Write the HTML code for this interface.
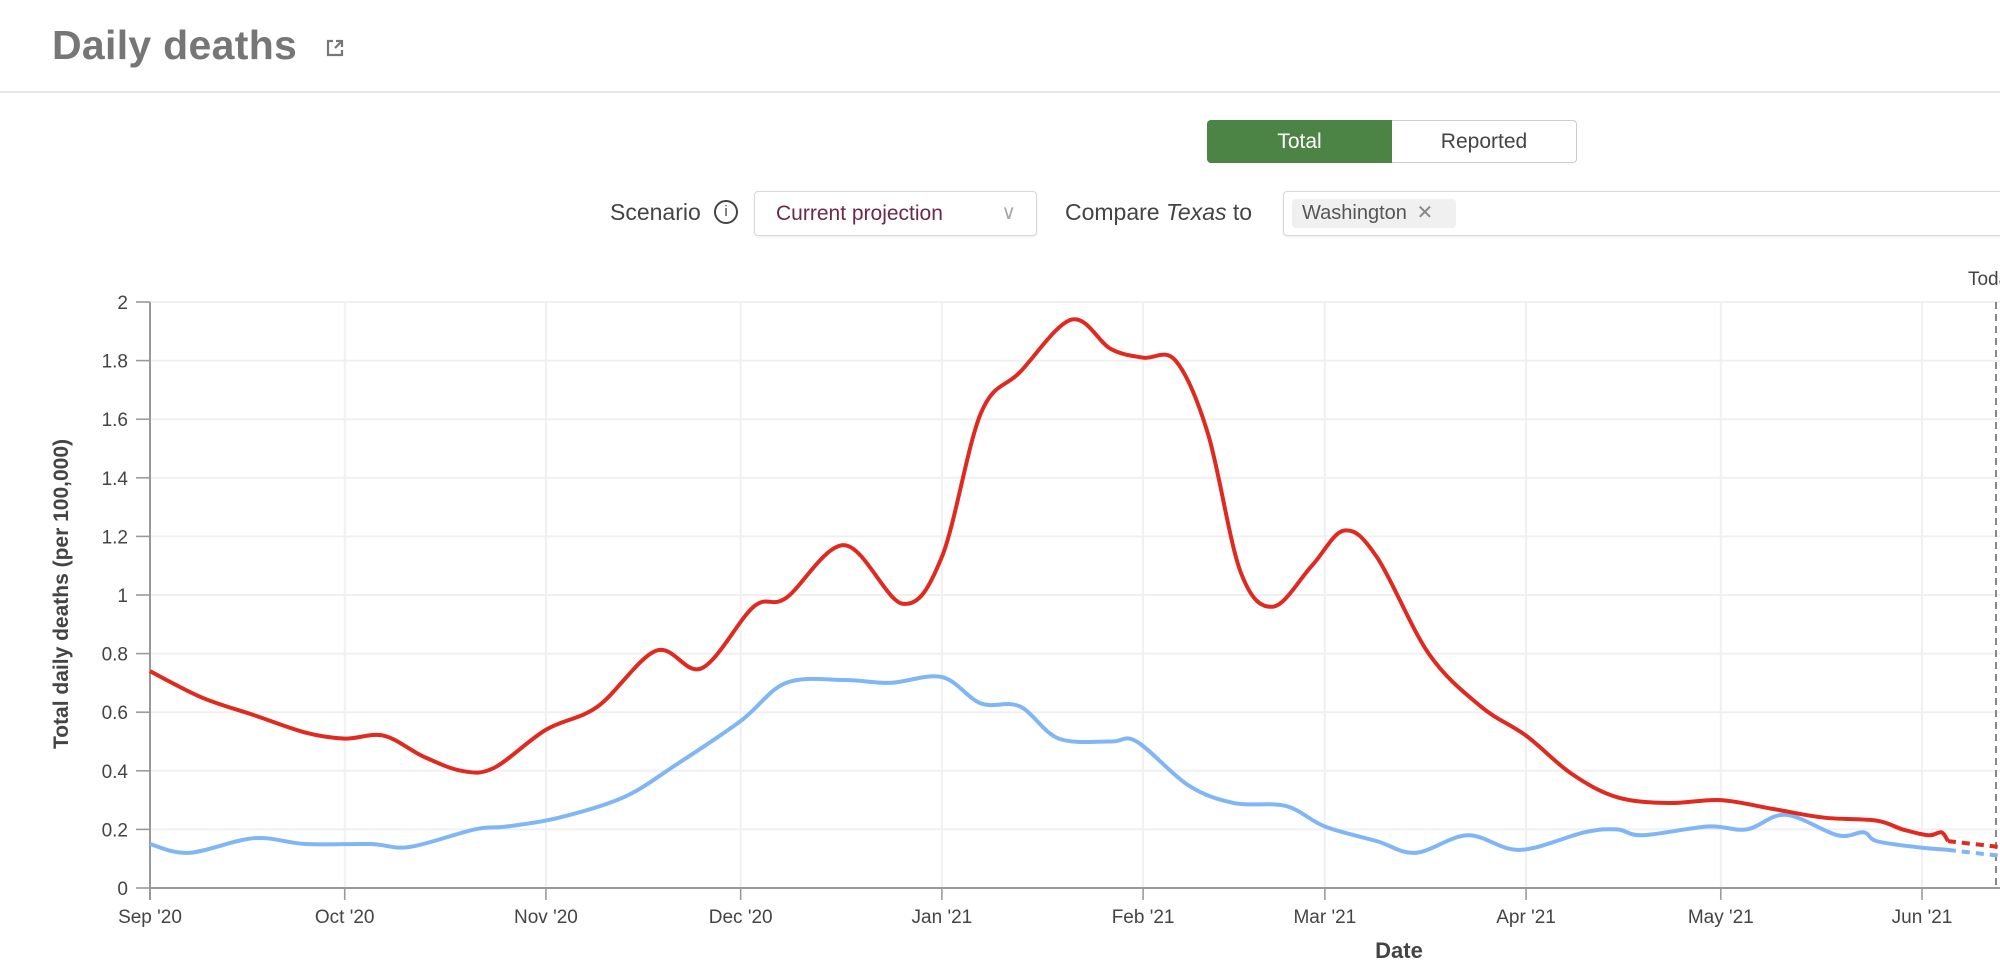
<!DOCTYPE html>
<html><head><meta charset="utf-8">
<style>
html,body{margin:0;padding:0;background:#fff;width:2000px;height:963px;overflow:hidden;font-family:"Liberation Sans",sans-serif;}
.abs{position:absolute;}
</style></head>
<body>
<div class="abs" style="left:52px;top:22px;font-size:41px;font-weight:900;color:#767676;letter-spacing:0.3px">Daily deaths</div>
<svg class="abs" style="left:325px;top:38px" width="20" height="20" viewBox="0 0 20 20"><path d="M8 3H3v14h14v-5" fill="none" stroke="#777" stroke-width="2.2"/><path d="M10 10L17 3M11 3h6v6" fill="none" stroke="#777" stroke-width="2.2"/></svg>
<div class="abs" style="left:0;top:91px;width:2000px;height:2px;background:#e6e6e6"></div>

<div class="abs" style="left:1207px;top:120px;width:185px;height:43px;background:#4b8444;border-radius:4px 0 0 4px;color:#fff;font-size:21px;line-height:43px;text-align:center">Total</div>
<div class="abs" style="left:1392px;top:120px;width:184px;height:41px;border:1px solid #ccc;border-left:none;border-radius:0 4px 4px 0;color:#444;font-size:21px;line-height:41px;text-align:center">Reported</div>

<div class="abs" style="left:610px;top:199px;font-size:23px;color:#444">Scenario</div>
<div class="abs" style="left:714px;top:200px;width:20px;height:20px;border:2px solid #444;border-radius:50%;font-size:15px;line-height:20px;text-align:center;color:#444">i</div>
<div class="abs" style="left:754px;top:191px;width:281px;height:43px;border:1px solid #d8d8d8;border-radius:4px;box-shadow:0 1px 2px rgba(0,0,0,.08)">
<span style="position:absolute;left:21px;top:10px;font-size:21px;color:#6b2a4a">Current projection</span>
<span style="position:absolute;right:20px;top:8px;font-size:20px;color:#aaa">&#8744;</span></div>
<div class="abs" style="left:1065px;top:199px;font-size:23px;color:#444">Compare <i>Texas</i> to</div>
<div class="abs" style="left:1283px;top:191px;width:730px;height:43px;border:1px solid #d8d8d8;border-radius:4px;box-shadow:0 1px 2px rgba(0,0,0,.08)">
<div style="position:absolute;left:8px;top:7px;width:164px;height:29px;background:#f0f0f0;border-radius:4px;font-size:20px;color:#555;line-height:29px;padding-left:10px;box-sizing:border-box">Washington <span style="color:#888;margin-left:4px">&#x2715;</span></div></div>

<svg id="chart" class="abs" style="left:0;top:0" width="2000" height="963"></svg>
<script>
const tickDays=[0,30,61,91,122,153,181,212,242,273];
const tickLabels=["Sep '20","Oct '20","Nov '20","Dec '20","Jan '21","Feb '21","Mar '21","Apr '21","May '21","Jun '21"];
const yTicks=[0,0.2,0.4,0.6,0.8,1,1.2,1.4,1.6,1.8,2];
const yTickLabels=["0","0.2","0.4","0.6","0.8","1","1.2","1.4","1.6","1.8","2"];
const texasDays=[0,8,16,24,30,36,42,48,53,61,69,78,85,93,98,107,116,122,128,134,142,148,153,158,163,168,173,179,184,189,197,205,212,219,226,234,242,250,258,266,270,274,276,277];
const texasVals=[0.74,0.65,0.59,0.53,0.51,0.52,0.45,0.40,0.41,0.54,0.62,0.81,0.75,0.96,0.99,1.17,0.97,1.13,1.62,1.76,1.94,1.84,1.81,1.80,1.55,1.08,0.96,1.10,1.22,1.13,0.80,0.62,0.52,0.39,0.31,0.29,0.30,0.27,0.24,0.23,0.20,0.18,0.19,0.16];
const texasProjDays=[277,285];
const texasProjVals=[0.16,0.14];
const waDays=[0,6,16,24,34,40,50,55,63,73,81,91,98,107,114,122,128,134,140,148,152,160,167,175,181,189,195,203,211,221,226,230,240,246,252,260,264,266,272,277];
const waVals=[0.15,0.12,0.17,0.15,0.15,0.14,0.20,0.21,0.24,0.31,0.42,0.57,0.70,0.71,0.70,0.72,0.63,0.62,0.51,0.50,0.50,0.35,0.29,0.28,0.21,0.16,0.12,0.18,0.13,0.19,0.20,0.18,0.21,0.20,0.25,0.18,0.19,0.16,0.14,0.13];
const waProjDays=[277,285];
const waProjVals=[0.13,0.11];
const todayDay=284.4;

const X0=150,X1=1922,Y0=888,Y1=302;
const xs=d=>X0+(X1-X0)*d/273;
const ys=v=>Y0-(Y0-Y1)*v/2;
const svg=document.getElementById('chart');
const NS='http://www.w3.org/2000/svg';
function mk(t,a,p){const e=document.createElementNS(NS,t);for(const k in a)e.setAttribute(k,a[k]);(p||svg).appendChild(e);return e;}
const plotW=2000;
yTicks.forEach((v,i)=>{
 const g=mk('line',{x1:X0-14,x2:plotW,y1:ys(v),y2:ys(v),stroke:'#f0f0f0','stroke-width':2});
 
 
 const tk=mk('line',{x1:X0-14,x2:X0,y1:ys(v),y2:ys(v),stroke:'#999','stroke-width':1.5});
 
 
 const t=mk('text',{x:X0-22,y:ys(v)+7,'text-anchor':'end','font-size':19,fill:'#444'});
 t.textContent=yTickLabels[i];
 
 
});
tickDays.forEach((d,i)=>{
 const g=mk('line',{x1:xs(d),x2:xs(d),y1:Y1,y2:Y0+12,stroke:'#f0f0f0','stroke-width':2});
 
 
 const tk=mk('line',{x1:xs(d),x2:xs(d),y1:Y0,y2:Y0+12,stroke:'#999','stroke-width':1.5});
 
 
 const t=mk('text',{x:xs(d),y:Y0+35,'text-anchor':'middle','font-size':19,fill:'#444'});
 t.textContent=tickLabels[i];
 
 
});
const ax=mk('line',{x1:X0,x2:X0,y1:Y1,y2:Y0+12,stroke:'#999','stroke-width':2});


const bx=mk('line',{x1:X0,x2:plotW,y1:Y0,y2:Y0,stroke:'#999','stroke-width':2});


const yt=mk('text',{x:0,y:0,transform:`translate(68,594) rotate(-90)`,'text-anchor':'middle','font-size':21,'font-weight':'bold',fill:'#444'});
yt.textContent='Total daily deaths (per 100,000)';


const xt=mk('text',{x:1399,y:958,'text-anchor':'middle','font-size':22,'font-weight':'bold',fill:'#444'});
xt.textContent='Date';


const tl=mk('line',{x1:xs(todayDay),x2:xs(todayDay),y1:Y1,y2:Y0,stroke:'#888','stroke-width':2,'stroke-dasharray':'7,5'});


const tt=mk('text',{x:xs(todayDay)-28,y:285,'font-size':19,fill:'#444'});
tt.textContent='Today';



function path(ds,vs){
 const p=ds.map((d,i)=>[xs(d),ys(vs[i])]);
 let s=`M${p[0][0]},${p[0][1]}`;
 for(let i=0;i<p.length-1;i++){
  const p0=p[i-1]||p[i],p1=p[i],p2=p[i+1],p3=p[i+2]||p2;
  const c1=[p1[0]+(p2[0]-p0[0])/6,p1[1]+(p2[1]-p0[1])/6];
  const c2=[p2[0]-(p3[0]-p1[0])/6,p2[1]-(p3[1]-p1[1])/6];
  s+=` C${c1[0]},${c1[1]} ${c2[0]},${c2[1]} ${p2[0]},${p2[1]}`;
 }
 return s;
}
const l1=mk('path',{d:path(waDays,waVals),fill:'none',stroke:'#80b6f5','stroke-width':4});


const l2=mk('path',{d:path(waProjDays,waProjVals),fill:'none',stroke:'#80b6f5','stroke-width':4,'stroke-dasharray':'8,6'});


const l3=mk('path',{d:path(texasDays,texasVals),fill:'none',stroke:'#e0291f','stroke-width':4});


const l4=mk('path',{d:path(texasProjDays,texasProjVals),fill:'none',stroke:'#e0291f','stroke-width':4,'stroke-dasharray':'8,6'});


</script>
</body></html>
